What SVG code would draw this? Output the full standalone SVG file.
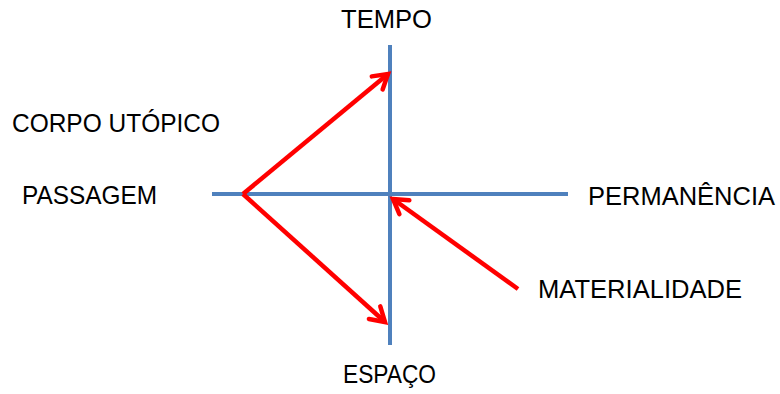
<svg xmlns="http://www.w3.org/2000/svg" width="780" height="394" viewBox="0 0 780 394">
<style>
text{font-family:"Liberation Sans",Arial,sans-serif;font-size:26px;fill:#000}
.axis{stroke:#4F81BD;stroke-width:4;fill:none}
.arrow{stroke:#FF0000;stroke-width:4.5;fill:none;marker-end:url(#head)}
</style>
<defs>
<marker id="head" markerUnits="userSpaceOnUse" viewBox="-20 -15 30 30" markerWidth="30" markerHeight="30" refX="0" refY="0" orient="auto">
<path d="M-14,-8.5 L0,0 L-14,8.5" fill="none" stroke="#FF0000" stroke-width="4.5" stroke-linecap="round" stroke-linejoin="miter"/>
</marker>
</defs>
<g id="axes">
<line class="axis" x1="390" y1="45" x2="390" y2="345"/>
<line class="axis" x1="212" y1="194" x2="568" y2="194"/>
</g>
<g id="connectors">
<line class="arrow" x1="243" y1="194" x2="388" y2="74"/>
<line class="arrow" x1="243" y1="194" x2="385" y2="322"/>
<line class="arrow" x1="518" y1="289" x2="393" y2="199"/>
</g>
<g id="tempo"><text x="341" y="28" textLength="91" lengthAdjust="spacingAndGlyphs">TEMPO</text></g>
<g id="corpo"><text x="12" y="132" textLength="208" lengthAdjust="spacingAndGlyphs">CORPO UTÓPICO</text></g>
<g id="passagem"><text x="22" y="204" textLength="135" lengthAdjust="spacingAndGlyphs">PASSAGEM</text></g>
<g id="permanencia"><text x="588" y="205" textLength="187" lengthAdjust="spacingAndGlyphs">PERMANÊNCIA</text></g>
<g id="materialidade"><text x="538" y="298" textLength="204" lengthAdjust="spacingAndGlyphs">MATERIALIDADE</text></g>
<g id="espaco"><text x="343" y="383" textLength="93" lengthAdjust="spacingAndGlyphs">ESPAÇO</text></g>
</svg>
